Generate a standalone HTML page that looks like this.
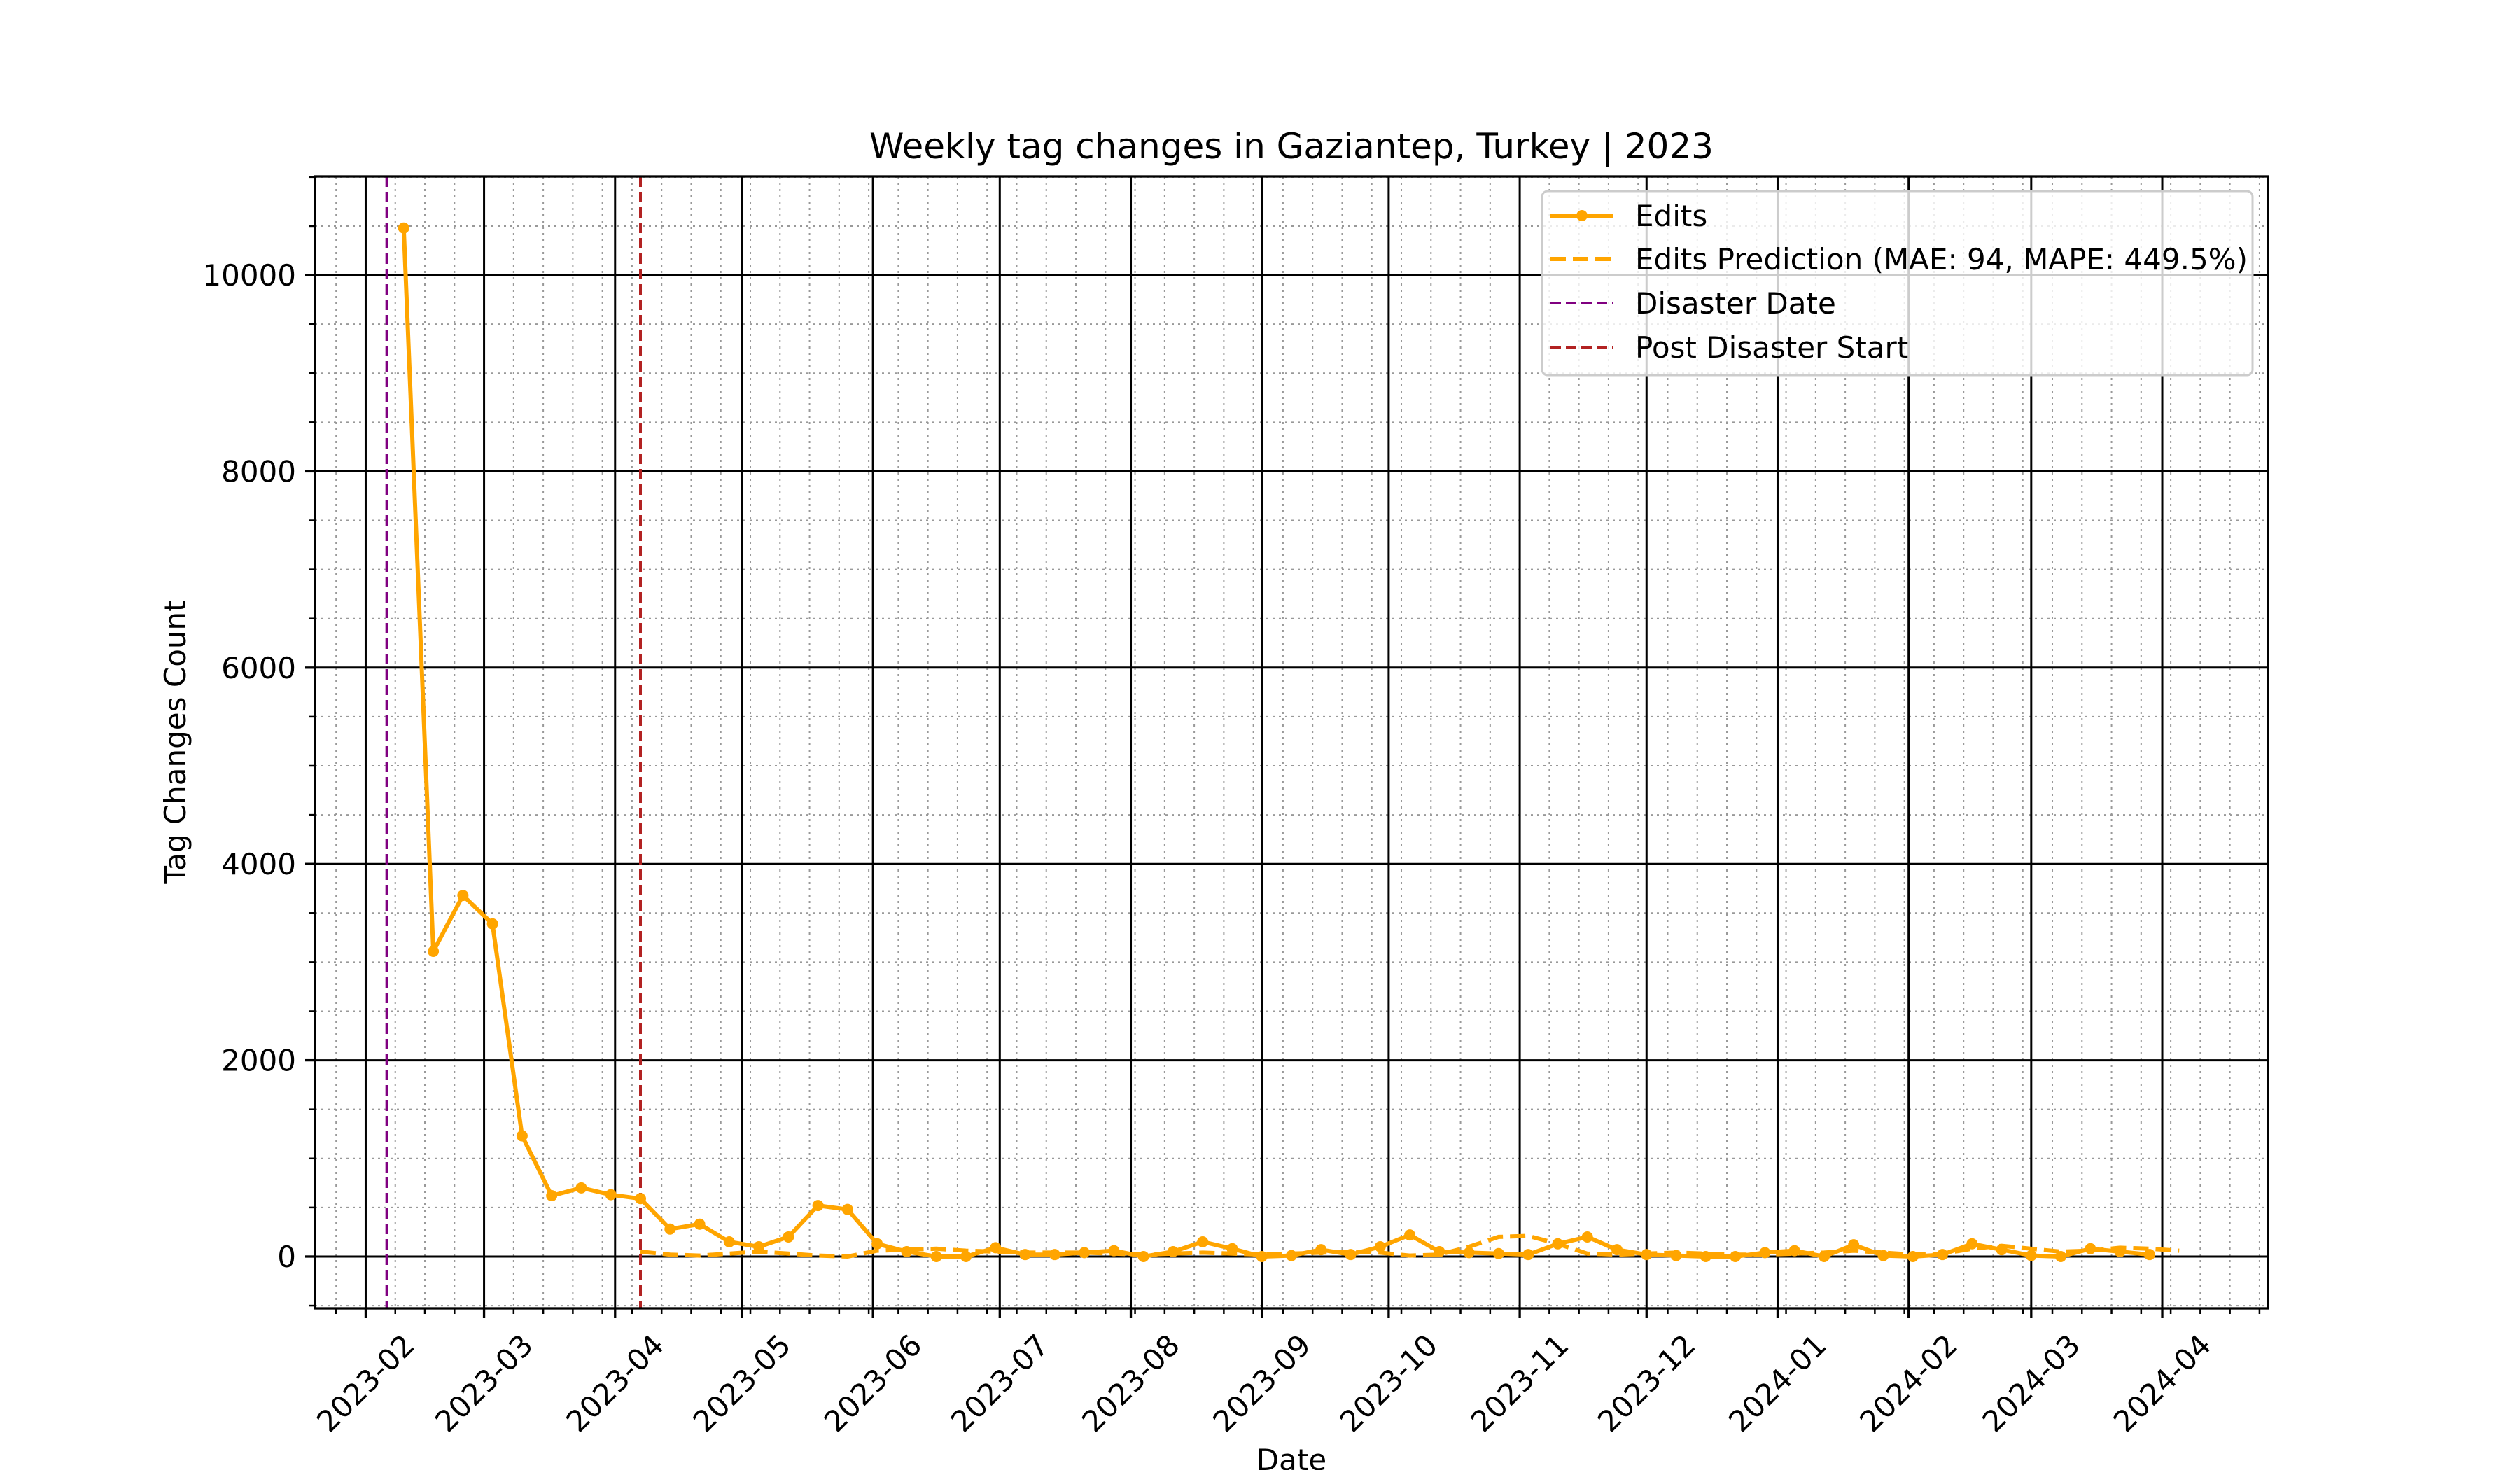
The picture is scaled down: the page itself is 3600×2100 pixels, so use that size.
<!DOCTYPE html>
<html><head><meta charset="utf-8"><style>
html,body{margin:0;padding:0;background:#fff;}
svg{display:block;font-family:"DejaVu Sans","Liberation Sans",sans-serif;}
</style></head><body>
<svg id="chart" width="3600" height="2100" viewBox="0 0 3600 2100" xmlns="http://www.w3.org/2000/svg">
<rect width="3600" height="2100" fill="#fff"/>
<g id="grid"></g>
<g id="series"></g>
<g id="axes"></g>
<text x="1845" y="226" font-size="50" text-anchor="middle">Weekly tag changes in Gaziantep, Turkey | 2023</text>
<text x="1845" y="2100" font-size="42" text-anchor="middle">Date</text>
<text transform="translate(265,1060) rotate(-90)" font-size="42" text-anchor="middle">Tag Changes Count</text>
<g id="legend">
<rect x="2203" y="273" width="1015" height="263" rx="8" fill="#fff" fill-opacity="0.8" stroke="#ccc" stroke-width="3"/>
<g>
<line x1="2215" y1="308" x2="2305" y2="308" stroke="#FFA500" stroke-width="6"/>
<circle cx="2260" cy="308" r="8" fill="#FFA500"/>
<text x="2336" y="323" font-size="42">Edits</text></g>
<g>
<line x1="2215" y1="370" x2="2305" y2="370" stroke="#FFA500" stroke-width="6" stroke-dasharray="22,10"/>
<text x="2336" y="385" font-size="42">Edits Prediction (MAE: 94, MAPE: 449.5%)</text></g>
<g>
<line x1="2215" y1="433" x2="2305" y2="433" stroke="#800080" stroke-width="4" stroke-dasharray="15,7"/>
<text x="2336" y="448" font-size="42">Disaster Date</text></g>
<g>
<line x1="2215" y1="496" x2="2305" y2="496" stroke="#B22222" stroke-width="4" stroke-dasharray="15,7"/>
<text x="2336" y="511" font-size="42">Post Disaster Start</text></g>
</g>
</svg>
<script>
const editsStart = "2023-02-10";
const editsValues = [10480,3110,3680,3390,1230,620,700,630,590,280,330,150,100,200,520,480,130,50,0,0,90,20,20,40,60,0,50,150,80,0,10,70,20,100,220,50,40,30,20,130,200,70,20,10,0,0,40,60,0,120,10,0,20,130,70,10,0,80,50,20];
const predStart = "2023-04-07";
const predValues = [50,20,10,30,50,30,10,0,60,70,80,60,50,40,40,40,30,20,30,40,30,20,30,40,50,40,10,20,100,200,210,130,30,20,30,40,30,20,20,30,40,60,40,20,30,80,110,80,50,60,90,80,60];
const disasterDate = "2023-02-06";
const postDisasterDate = "2023-04-07";
const yTicks = [0,2000,4000,6000,8000,10000];
const monthTicks = ["2023-02","2023-03","2023-04","2023-05","2023-06","2023-07","2023-08","2023-09","2023-10","2023-11","2023-12","2024-01","2024-02","2024-03","2024-04"];

const L=450,R=3240,T=252,B=1869;
const xMin=Date.UTC(2023,0,20), xMax=Date.UTC(2024,3,26);
const yMin=-528, yMax=11006;
const DAY=86400000;
function d(s){const p=s.split('-').map(Number);return Date.UTC(p[0],p[1]-1,p[2]||1);}
function X(t){return L+(t-xMin)/(xMax-xMin)*(R-L);}
function Y(v){return B-(v-yMin)/(yMax-yMin)*(B-T);}
const NS="http://www.w3.org/2000/svg";
function mk(tag,attrs,parent){const e=document.createElementNS(NS,tag);for(const k in attrs)e.setAttribute(k,attrs[k]);parent.appendChild(e);return e;}
const grid=document.getElementById('grid'),series=document.getElementById('series'),axes=document.getElementById('axes');

for(let v=-500;v<=11000;v+=500){if(v%2000===0)continue;const y=Y(v);
 const g=mk('line',{x1:L,x2:R,y1:y,y2:y,stroke:'#999','stroke-width':2,'stroke-dasharray':'3,6'},grid);
 
 
 const t=mk('line',{x1:L-8,x2:L,y1:y,y2:y,stroke:'#000','stroke-width':2.5},axes);
 
 }
for(let t=Date.UTC(2023,0,25);t<=xMax;t+=7*DAY){const x=X(t);
 const g=mk('line',{x1:x,x2:x,y1:T,y2:B,stroke:'#999','stroke-width':2,'stroke-dasharray':'3,6'},grid);
 
 
 const k=mk('line',{x1:x,x2:x,y1:B,y2:B+8,stroke:'#000','stroke-width':2.5},axes);
 
 }
yTicks.forEach(v=>{const y=Y(v);
 const g=mk('line',{x1:L,x2:R,y1:y,y2:y,stroke:'#000','stroke-width':3},grid);
 
 
 const k=mk('line',{x1:L-14,x2:L,y1:y,y2:y,stroke:'#000','stroke-width':3.3},axes);
 
 
 const tx=mk('text',{x:L-27,y:y+15,'font-size':42,'text-anchor':'end'},axes);
 tx.textContent=String(v);
 
 });
monthTicks.forEach(m=>{const x=X(d(m));
 const g=mk('line',{x1:x,x2:x,y1:T,y2:B,stroke:'#000','stroke-width':3},grid);
 
 
 const k=mk('line',{x1:x,x2:x,y1:B,y2:B+14,stroke:'#000','stroke-width':3.3},axes);
 
 
 const tx=mk('text',{x:0,y:0,'font-size':42,'text-anchor':'middle','dominant-baseline':'central',transform:`translate(${x},1976) rotate(-45)`},axes);
 tx.textContent=m;
 
 });
const sp=mk('rect',{x:L,y:T,width:R-L,height:B-T,fill:'none',stroke:'#000','stroke-width':3.3},axes);



const v1=mk('line',{x1:X(d(disasterDate)),x2:X(d(disasterDate)),y1:T,y2:B,stroke:'#800080','stroke-width':4,'stroke-dasharray':'15,7'},series);


const v2=mk('line',{x1:X(d(postDisasterDate)),x2:X(d(postDisasterDate)),y1:T,y2:B,stroke:'#B22222','stroke-width':4,'stroke-dasharray':'15,7'},series);



const p0=d(predStart);
const pp=predValues.map((v,i)=>X(p0+i*7*DAY).toFixed(1)+','+Y(v).toFixed(1)).join(' ');
const pl=mk('polyline',{points:pp,fill:'none',stroke:'#FFA500','stroke-width':6,'stroke-dasharray':'22,10'},series);


const e0=d(editsStart);
const ep=editsValues.map((v,i)=>X(e0+i*7*DAY).toFixed(1)+','+Y(v).toFixed(1)).join(' ');
const el=mk('polyline',{points:ep,fill:'none',stroke:'#FFA500','stroke-width':6,'stroke-linejoin':'round'},series);


editsValues.forEach((v,i)=>{const c=mk('circle',{cx:X(e0+i*7*DAY),cy:Y(v),r:8,fill:'#FFA500'},series);
 
 });
</script>
</body></html>
